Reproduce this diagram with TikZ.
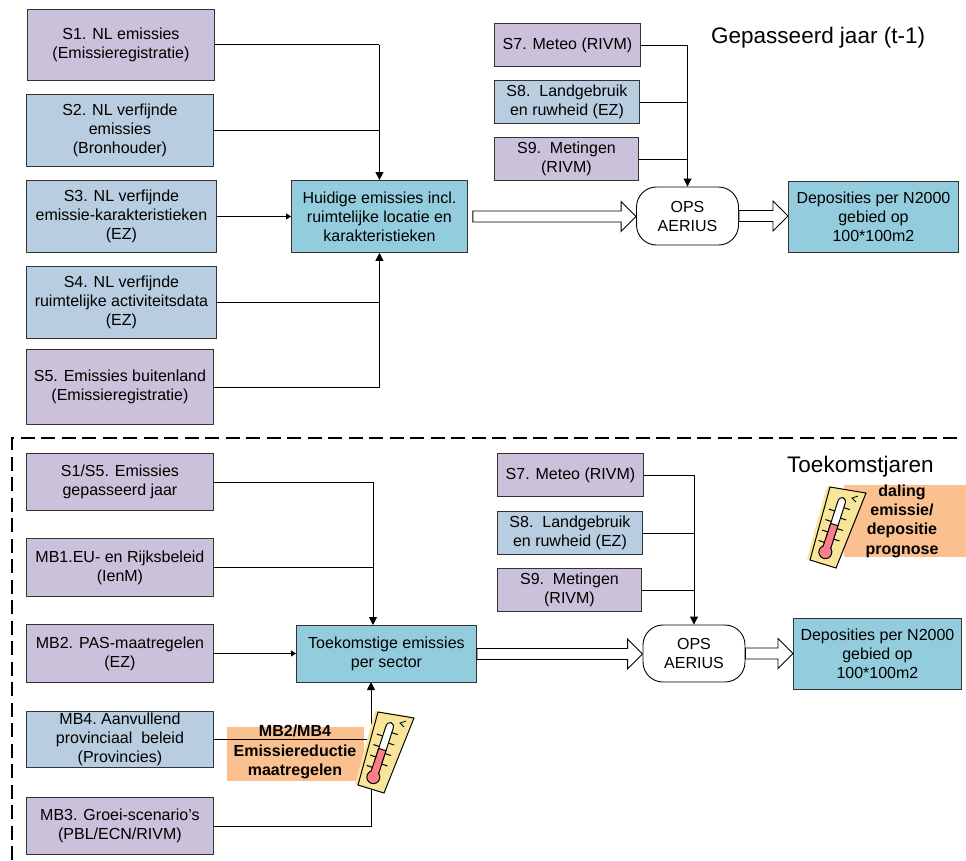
\documentclass[tikz,border=0pt]{standalone}
\usepackage{fontspec}
\setmainfont{Liberation Sans}
\usetikzlibrary{arrows.meta,calc}
\definecolor{cpurple}{HTML}{CCC1DA}
\definecolor{cblue}{HTML}{B9CDE0}
\definecolor{cteal}{HTML}{93CDDD}
\definecolor{corange}{HTML}{FAC090}
\definecolor{cyellow}{HTML}{F9E59A}
\definecolor{cpink}{HTML}{F9808A}
\tikzset{
  x=1pt,y=-1pt,
  every node/.style={font=\fontsize{16}{19}\selectfont,align=center,inner sep=0pt},
  boxbase/.style={draw=black!80,line width=0.9pt,minimum width=#1,anchor=north west},
  boxbase/.default=187pt,
  purplebox/.style={boxbase,fill=cpurple},
  bluebox/.style={boxbase,fill=cblue},
  tealbox/.style={boxbase,fill=cteal},
  opsbox/.style={draw=black,line width=0.9pt,fill=white,rounded corners=20pt,anchor=center},
  conn/.style={draw=black,line width=0.9pt},
  connarrow/.style={conn,-{Triangle[length=8pt,width=8pt]}},
  connsmall/.style={conn,-{Triangle[length=5pt,width=6pt]}},
  block/.style={draw=black,line width=0.9pt,fill=white},
  orangebox/.style={fill=corange,anchor=north west},
  boldtext/.style={font=\fontsize{16}{19.3}\bfseries\selectfont},
  heading/.style={font=\fontsize{22.5}{26}\selectfont,anchor=west},
  pics/thermo/.style={code={
    \fill[cyellow] (-11,-42) -- (24,-37) -- (-4,38) -- (-31,31) -- cycle;
    \draw[black,line width=1pt,fill=cyellow] (-8,-41) -- (28,-35) -- (-2,40) -- (-28,32) -- cycle;
    \begin{scope}[shift={(-4,-2.5)},rotate=-18]
      \foreach \yy in {-20,-9,2,13} \draw[black,line width=1pt] (0,\yy) -- (10,\yy);
      \foreach \yy in {-14,-3,8,19} \draw[black,line width=1pt] (0,\yy) -- (-10,\yy);
      \draw[black,line width=1pt,fill=white] (-3.8,24) -- (-3.8,-24) .. controls (-3.8,-31) and (3.8,-31) .. (3.8,-24) -- (3.8,24) -- cycle;
      \draw[black,line width=1pt,fill=cpink] (-3.8,24) -- (-3.8,-1) -- (3.8,-1) -- (3.8,24) -- cycle;
      \draw[black,line width=1pt,fill=cpink] (0,28) circle (6.5);
      \fill[cpink] (-3.2,26) rectangle (3.2,15);
    \end{scope}
    \draw[black,line width=0.8pt] (20,-32) -- (14,-30) -- (18,-26);
  }}
}
% #1 source, #2 target, #3 gap after the source
\newcommand{\blockarrow}[3]{%
  \draw[block] let \p1=(#1.east),\p2=(#2.west) in
    ($(\x1,\y1)+(#3,-5.5)$) -- ($(\x2,\y1)+(-15,-5.5)$) -- ($(\x2,\y1)+(-15,-15)$)
    -- (\x2,\y1) -- ($(\x2,\y1)+(-15,15)$) -- ($(\x2,\y1)+(-15,5.5)$) -- ($(\x1,\y1)+(#3,5.5)$) -- cycle;}
\begin{document}
\begin{tikzpicture}
\useasboundingbox (0,0) rectangle (966,860);
% upper part
\node[purplebox,minimum height=71.5pt] (s1) at (27,8.5) {S1. NL emissies\\(Emissieregistratie)};
\node[bluebox,minimum height=72pt] (s2) at (26,94) {S2. NL verfijnde\\emissies\\(Bronhouder)};
\node[bluebox,boxbase=190pt,minimum height=72pt] (s3) at (26,180) {S3. NL verfijnde\\emissie-karakteristieken\\(EZ)};
\node[bluebox,boxbase=190pt,minimum height=72pt] (s4) at (26,266) {S4. NL verfijnde\\ruimtelijke activiteitsdata\\(EZ)};
\node[purplebox,minimum height=75pt] (s5) at (26,349) {S5. Emissies buitenland\\(Emissieregistratie)};
\node[tealbox,boxbase=176pt,minimum height=72pt] (hu) at (291,180) {Huidige emissies incl.\\ruimtelijke locatie en\\karakteristieken};
\node[purplebox,boxbase=146pt,minimum height=43pt] (ta) at (494,23) {S7. Meteo (RIVM)};
\node[bluebox,boxbase=145pt,minimum height=43pt] (tb) at (494,80) {S8.\ \ Landgebruik\\en ruwheid (EZ)};
\node[purplebox,boxbase=144pt,minimum height=43pt] (tc) at (494,137) {S9.\ \ Metingen\\(RIVM)};
\node[opsbox,minimum width=102pt,minimum height=58pt] (ops) at (687.5,216) {OPS\\AERIUS};
\node[tealbox,boxbase=170pt,minimum height=71pt] (dep) at (788,181) {Deposities per N2000\\gebied op\\100*100m2};
\node[heading] (hga) at (711,38) {Gepasseerd jaar (t-1)};
\draw[conn] (s1.east) -- (s1.east -| hu.north);
\draw[conn] (s2.east) -- (s2.east -| hu.north);
\draw[connarrow] (s1.east -| hu.north) -- (hu.north);
\draw[connsmall] (s3.east) -- (s3.east -| hu.west);
\draw[conn] (s4.east) -- (s4.east -| hu.south);
\draw[connarrow] (s5.east) -| (hu.south);
\draw[conn] (tb.east) -- (tb.east -| ops.north);
\draw[conn] (tc.east) -- (tc.east -| ops.north);
\draw[connarrow] (ta.east) -| (ops.north);
\blockarrow{hu}{ops}{5}
\blockarrow{ops}{dep}{0}
% separator
\coordinate (da) at (12,860);
\coordinate (db) at (12,438);
\coordinate (dc) at (961,438);
\draw[black,line width=1.5pt,dash pattern=on 14pt off 6.5pt] (da) -- (db) -- (dc);
% lower part
\node[purplebox,minimum height=57pt] (f1) at (26,453) {S1/S5. Emissies\\gepasseerd jaar};
\node[purplebox,minimum height=58pt] (f2) at (26,538) {MB1.EU- en Rijksbeleid\\(IenM)};
\node[purplebox,minimum height=58pt] (f3) at (26,624) {MB2. PAS-maatregelen\\(EZ)};
\node[bluebox,minimum height=56pt] (f4) at (26,711) {MB4.\ Aanvullend\\provinciaal\ \ beleid\\(Provincies)};
\node[purplebox,minimum height=57pt] (f5) at (26,797) {MB3. Groei-scenario's\\(PBL/ECN/RIVM)};
\node[tealbox,boxbase=180pt,minimum height=57pt] (to) at (296,625) {Toekomstige emissies\\per sector};
\node[purplebox,boxbase=146pt,minimum height=43pt] (fa) at (497,453) {S7. Meteo (RIVM)};
\node[bluebox,boxbase=145pt,minimum height=43pt] (fb) at (497,511) {S8.\ \ Landgebruik\\en ruwheid (EZ)};
\node[purplebox,boxbase=144pt,minimum height=43pt] (fc) at (497,568) {S9.\ \ Metingen\\(RIVM)};
\node[opsbox,minimum width=102pt,minimum height=57pt] (ops2) at (694,653.5) {OPS\\AERIUS};
\node[tealbox,boxbase=168pt,minimum height=71pt] (dep2) at (793,618) {Deposities per N2000\\gebied op\\100*100m2};
\node[heading] (hgb) at (787,467) {Toekomstjaren};
\node[orangebox,minimum width=137pt,minimum height=54pt] (ob) at (227,727) {};
\node[orangebox,minimum width=122pt,minimum height=72pt] (oa) at (844,485) {};
\node[boldtext] (oat) at (902,521) {daling\\emissie/\\depositie\\prognose};
\coordinate (ti) at (373,625);
\coordinate (bi) at (371,682);
\draw[conn] (f2.east) -- (f2.east -| ti);
\draw[connarrow] (f1.east) -| (ti);
\draw[connsmall] (f3.east) -- (f3.east -| to.west);
\node[boldtext] (obt) at (295,752) {MB2/MB4\\Emissiereductie\\maatregelen};
\draw[conn] (f4.east) -- (f4.east -| bi);
\draw[connarrow] (f5.east) -| (bi);
\draw[conn] (fb.east) -- (fb.east -| ops2.north);
\draw[conn] (fc.east) -- (fc.east -| ops2.north);
\draw[connarrow] (fa.east) -| (ops2.north);
\blockarrow{to}{ops2}{0}
\blockarrow{ops2}{dep2}{0}
\pic at (386,753) {thermo};
\pic at (838,528) {thermo};
\end{tikzpicture}
\end{document}
